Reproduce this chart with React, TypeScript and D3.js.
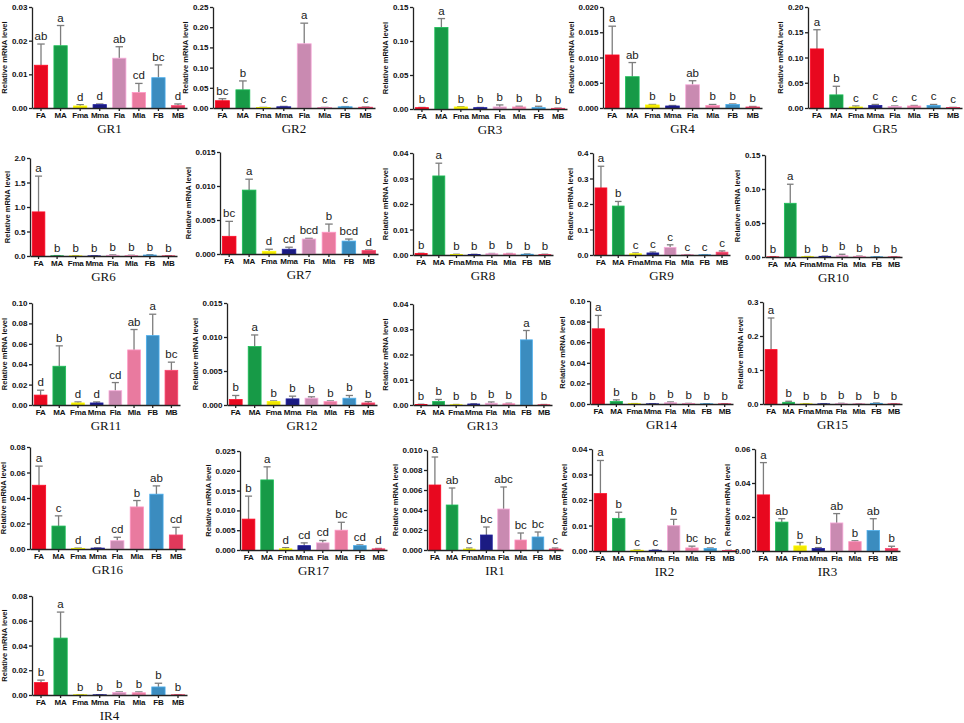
import React, { useEffect, useRef } from 'react';
import * as d3 from 'd3';

const categories = ['FA', 'MA', 'Fma', 'Mma', 'Fla', 'Mla', 'FB', 'MB'];
const barColors = ['#e8081f', '#179a47', '#f2e600', '#1b1b82', '#c98ab1', '#e97a9f', '#3b8cbf', '#e0395b'];

const genes = ['GR1', 'GR2', 'GR3', 'GR4', 'GR5', 'GR6', 'GR7', 'GR8', 'GR9', 'GR10', 'GR11',
  'GR12', 'GR13', 'GR14', 'GR15', 'GR16', 'GR17', 'IR1', 'IR2', 'IR3', 'IR4'];

// mean relative expression per gene, in category order
const meanValues = [
  [0.0127, 0.0185, 0.0006, 0.001, 0.0148, 0.0046, 0.009, 0.0007],
  [0.018, 0.045, 0.001, 0.003, 0.159, 0.001, 0.003, 0.002],
  [0.002, 0.12, 0.003, 0.002, 0.003, 0.003, 0.002, 0.001],
  [0.0105, 0.0062, 0.0006, 0.0004, 0.0046, 0.0005, 0.0007, 0.0002],
  [0.117, 0.026, 0.002, 0.005, 0.003, 0.004, 0.005, 0.001],
  [0.9, 0.005, 0.003, 0.004, 0.015, 0.01, 0.02, 0.004],
  [0.0026, 0.0094, 0.0004, 0.0007, 0.0022, 0.0032, 0.0019, 0.0005],
  [0.0006, 0.031, 0.0002, 0.0002, 0.0005, 0.0005, 0.0003, 0.0002],
  [0.263, 0.192, 0.005, 0.008, 0.03, 0.001, 0.001, 0.011],
  [0.0002, 0.079, 0.0005, 0.001, 0.002, 0.001, 0.0003, 0.0002],
  [0.0097, 0.038, 0.002, 0.002, 0.014, 0.054, 0.068, 0.034],
  [0.0008, 0.0086, 0.0005, 0.0009, 0.001, 0.0005, 0.001, 0.0003],
  [0.0002, 0.0014, 0.0001, 0.0004, 0.0007, 0.0005, 0.0258, 0.0001],
  [0.073, 0.0025, 0.0003, 0.0002, 0.0012, 0.0004, 0.0002, 0.0002],
  [0.16, 0.005, 0.0005, 0.0005, 0.001, 0.0005, 0.002, 0.0005],
  [0.05, 0.018, 0.0005, 0.0007, 0.0065, 0.033, 0.043, 0.011],
  [0.0078, 0.0177, 0.0003, 0.0011, 0.0018, 0.005, 0.0011, 0.0003],
  [0.0065, 0.0045, 0.0001, 0.0015, 0.0041, 0.001, 0.0013, 0.0001],
  [0.0225, 0.0128, 0.0003, 0.0003, 0.0099, 0.0012, 0.001, 0.0002],
  [0.033, 0.017, 0.003, 0.0015, 0.0165, 0.0055, 0.012, 0.0015],
  [0.01, 0.046, 0.0002, 0.0002, 0.002, 0.0018, 0.0065, 0.0002],
];

// standard deviation (upper error bar)
const sdValues = [
  [0.0063, 0.006, 0.0004, 0.0002, 0.0034, 0.0027, 0.0038, 0.0005],
  [0.005, 0.022, 0.0005, 0.001, 0.051, 0.0005, 0.0005, 0.0005],
  [0.0003, 0.013, 0.0005, 0.0003, 0.003, 0.001, 0.002, 0.0003],
  [0.0057, 0.0028, 0.0001, 0.0001, 0.0008, 0.0002, 0.0001, 0.0001],
  [0.038, 0.017, 0.002, 0.002, 0.001, 0.001, 0.002, 0.0003],
  [0.73, 0.003, 0.002, 0.002, 0.008, 0.005, 0.008, 0.002],
  [0.0022, 0.0016, 0.0003, 0.0003, 0.0001, 0.0012, 0.0003, 0.0001],
  [0.0001, 0.005, 0.0001, 0.0001, 0.0001, 0.0001, 0.0001, 0.0001],
  [0.085, 0.018, 0.003, 0.004, 0.01, 0.0005, 0.0005, 0.005],
  [0.0001, 0.028, 0.0002, 0.0003, 0.002, 0.0003, 0.0001, 0.0001],
  [0.0048, 0.02, 0.001, 0.001, 0.008, 0.02, 0.021, 0.008],
  [0.0006, 0.0017, 0.0001, 0.0004, 0.0002, 0.0001, 0.0004, 0.0002],
  [0.0001, 0.0008, 0.0001, 0.0001, 0.0005, 0.0002, 0.0037, 0.0001],
  [0.013, 0.0015, 0.0001, 0.0001, 0.0008, 0.0002, 0.0001, 0.0001],
  [0.093, 0.003, 0.0002, 0.0002, 0.001, 0.0002, 0.001, 0.0002],
  [0.015, 0.008, 0.0002, 0.0002, 0.0027, 0.005, 0.0065, 0.006],
  [0.0058, 0.0033, 0.0003, 0.0007, 0.0006, 0.002, 0.0002, 0.0001],
  [0.0028, 0.0017, 0.0001, 0.0008, 0.0022, 0.0007, 0.0005, 0.0001],
  [0.013, 0.0024, 0.0001, 0.0001, 0.0025, 0.0007, 0.0002, 0.0001],
  [0.019, 0.002, 0.002, 0.0005, 0.0055, 0.0005, 0.007, 0.0013],
  [0.002, 0.021, 0.0001, 0.0001, 0.0005, 0.0007, 0.003, 0.0001],
];

const sigLetters = [
  ['ab', 'a', 'd', 'd', 'ab', 'cd', 'bc', 'd'],
  ['bc', 'b', 'c', 'c', 'a', 'c', 'c', 'c'],
  ['b', 'a', 'b', 'b', 'b', 'b', 'b', 'b'],
  ['a', 'ab', 'b', 'b', 'ab', 'b', 'b', 'b'],
  ['a', 'b', 'c', 'c', 'c', 'c', 'c', 'c'],
  ['a', 'b', 'b', 'b', 'b', 'b', 'b', 'b'],
  ['bc', 'a', 'd', 'cd', 'bcd', 'b', 'bcd', 'd'],
  ['b', 'a', 'b', 'b', 'b', 'b', 'b', 'b'],
  ['a', 'b', 'c', 'c', 'c', 'c', 'c', 'c'],
  ['b', 'a', 'b', 'b', 'b', 'b', 'b', 'b'],
  ['d', 'b', 'd', 'd', 'cd', 'ab', 'a', 'bc'],
  ['b', 'a', 'b', 'b', 'b', 'b', 'b', 'b'],
  ['b', 'b', 'b', 'b', 'b', 'b', 'a', 'b'],
  ['a', 'b', 'b', 'b', 'b', 'b', 'b', 'b'],
  ['a', 'b', 'b', 'b', 'b', 'b', 'b', 'b'],
  ['a', 'c', 'd', 'd', 'cd', 'b', 'ab', 'cd'],
  ['b', 'a', 'd', 'cd', 'cd', 'bc', 'cd', 'd'],
  ['a', 'ab', 'c', 'bc', 'abc', 'bc', 'bc', 'c'],
  ['a', 'b', 'c', 'c', 'b', 'bc', 'bc', 'c'],
  ['a', 'ab', 'b', 'b', 'ab', 'b', 'ab', 'b'],
  ['b', 'a', 'b', 'b', 'b', 'b', 'b', 'b'],
];

const yMaxValues = [0.03, 0.25, 0.15, 0.02, 0.2, 2.0, 0.015, 0.04, 0.4, 0.15, 0.1,
  0.015, 0.04, 0.1, 0.3, 0.08, 0.025, 0.01, 0.04, 0.06, 0.08];
const yTickSteps = [0.01, 0.05, 0.05, 0.005, 0.05, 0.5, 0.005, 0.01, 0.1, 0.05, 0.02,
  0.005, 0.01, 0.02, 0.1, 0.02, 0.005, 0.002, 0.01, 0.02, 0.02];

// panel frames in page pixels: [y-axis x, top y, zero y, x-axis end]
const panelFrames = [
  [32, 7, 108, 187], [213, 7, 108, 375], [413, 7, 109, 567], [603, 7, 108, 762], [808, 7, 108, 962],
  [30, 158, 256, 177], [220, 152, 254, 378], [413, 153, 255, 553], [593, 153, 255, 730], [765, 155, 257, 902],
  [32, 303, 405, 180], [227, 303, 405, 377], [413, 304, 405, 552], [590, 301, 404, 733], [763, 302, 404, 902],
  [30, 447, 549, 185], [240, 451, 550, 387], [427, 450, 550, 563], [592, 449, 551, 737], [755, 449, 551, 900],
  [32, 596, 695, 187],
];

const SANS = '"Liberation Sans", Arial, sans-serif';
const SERIF = '"Liberation Serif", "Times New Roman", serif';

const App: React.FC = () => {
  const svgRef = useRef<SVGSVGElement>(null);

  useEffect(() => {
    if (!svgRef.current) return;
    const svg = d3.select(svgRef.current);
    svg.selectAll('*').remove();

    genes.forEach((gene, gi) => {
      const [x0, yTop, yZero, x1] = panelFrames[gi];
      const g = svg.append('g');

      const x = d3.scaleBand().domain(categories).range([x0, x1]).paddingInner(0.32).paddingOuter(0.12);
      const y = d3.scaleLinear().domain([0, yMaxValues[gi]]).range([yZero, yTop]);
      const step = yTickSteps[gi];
      const decimals = Math.max(0, -Math.floor(Math.log10(step) + 1e-9));
      const ticks = d3.range(0, yMaxValues[gi] + step / 2, step);

      const rows = categories.map((c, i) => ({
        cat: c,
        color: barColors[i],
        mean: meanValues[gi][i],
        sd: sdValues[gi][i],
        letter: sigLetters[gi][i],
      }));

      // error bars (upper only)
      const bw = x.bandwidth();
      const err = g.append('g').attr('stroke', '#7d7d7d').attr('stroke-width', 1.3);
      rows.forEach(d => {
        const cx = (x(d.cat) as number) + bw / 2;
        err.append('line')
          .attr('x1', cx).attr('x2', cx)
          .attr('y1', y(d.mean)).attr('y2', y(d.mean + d.sd));
        err.append('line')
          .attr('x1', cx - bw * 0.28).attr('x2', cx + bw * 0.28)
          .attr('y1', y(d.mean + d.sd)).attr('y2', y(d.mean + d.sd));
      });

      // bars
      g.append('g')
        .selectAll('rect')
        .data(rows)
        .join('rect')
        .attr('x', d => x(d.cat) as number)
        .attr('y', d => y(d.mean))
        .attr('width', bw)
        .attr('height', d => Math.max(0, yZero - y(d.mean)))
        .attr('fill', d => d.color)
        .attr('stroke', d => (d3.color(d.color) as d3.RGBColor).brighter(0.6).formatHex())
        .attr('stroke-width', 0.8);

      // significance letters
      g.append('g')
        .selectAll('text')
        .data(rows)
        .join('text')
        .attr('x', d => (x(d.cat) as number) + bw / 2)
        .attr('y', d => y(d.mean + d.sd) - 4)
        .attr('text-anchor', 'middle')
        .attr('font-family', SANS)
        .attr('font-size', 11.5)
        .attr('fill', '#1a1a1a')
        .text(d => d.letter);

      // y axis
      const yAxis = g.append('g')
        .attr('transform', `translate(${x0},0)`)
        .call(
          d3.axisLeft(y)
            .tickValues(ticks)
            .tickFormat(d => d3.format(`.${decimals}f`)(d as number))
            .tickSize(3)
            .tickSizeOuter(0)
            .tickPadding(1.5)
        );
      yAxis.selectAll('text')
        .attr('font-family', SANS)
        .attr('font-weight', 'bold')
        .attr('font-size', 8)
        .attr('fill', '#111');
      yAxis.selectAll('path, line').attr('stroke', '#222').attr('stroke-width', 1.3);

      // x axis
      const xAxis = g.append('g')
        .attr('transform', `translate(0,${yZero})`)
        .call(d3.axisBottom(x).tickSize(3).tickSizeOuter(0).tickPadding(1.5));
      xAxis.selectAll('text')
        .attr('font-family', SANS)
        .attr('font-weight', 'bold')
        .attr('font-size', 8)
        .attr('letter-spacing', -0.2)
        .attr('fill', '#111');
      xAxis.selectAll('path, line').attr('stroke', '#222').attr('stroke-width', 1.3);

      // y axis title, placed just left of the widest tick label
      const tickWidths = yAxis.selectAll<SVGTextElement, unknown>('text').nodes().map(n => n.getBBox().width);
      const tw = d3.max(tickWidths) ?? 16;
      const lx = Math.max(6, x0 - 3 - 1.5 - tw - 4);
      g.append('text')
        .attr('transform', `translate(${lx},${(yTop + yZero) / 2}) rotate(-90)`)
        .attr('text-anchor', 'middle')
        .attr('font-family', SANS)
        .attr('font-weight', 'bold')
        .attr('font-size', 7.5)
        .attr('fill', '#111')
        .text('Relative mRNA level');

      // panel title
      g.append('text')
        .attr('x', (x0 + x1) / 2)
        .attr('y', yZero + 25)
        .attr('text-anchor', 'middle')
        .attr('font-family', SERIF)
        .attr('font-size', 13)
        .attr('fill', '#111')
        .text(gene);
    });
  }, []);

  return (
    <svg
      ref={svgRef}
      width={964}
      height={723}
      style={{ position: 'absolute', left: 0, top: 0, background: '#fff' }}
    />
  );
};

export default App;
